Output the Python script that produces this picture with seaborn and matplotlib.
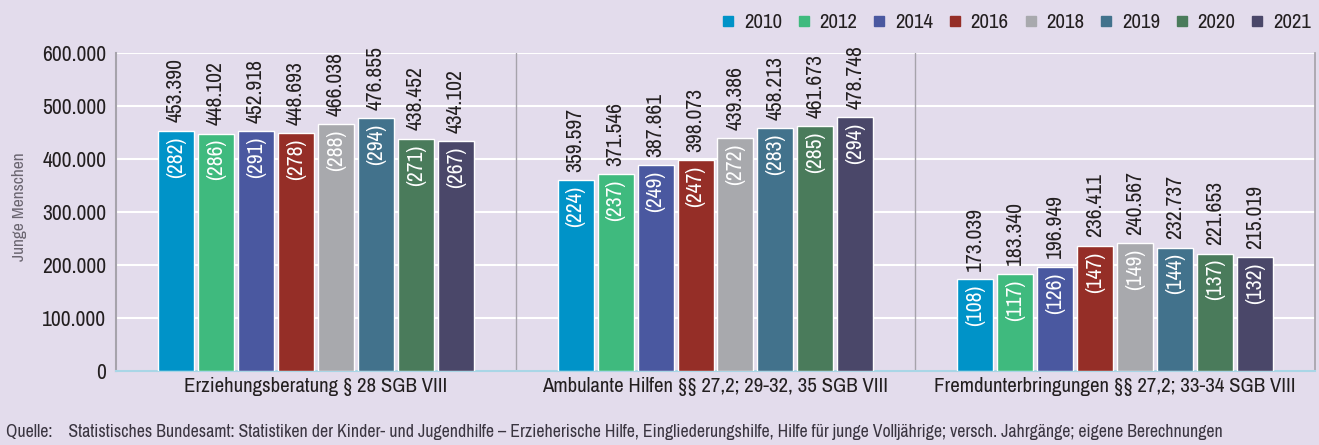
import matplotlib
matplotlib.use("Agg")
import matplotlib.pyplot as plt
import seaborn as sns
import pandas as pd
import numpy as np
from matplotlib.lines import Line2D

categories = ["Erziehungsberatung § 28 SGB VIII",
              "Ambulante Hilfen §§ 27,2; 29-32, 35 SGB VIII",
              "Fremdunterbringungen §§ 27,2; 33-34 SGB VIII"]
years = ["2010", "2012", "2014", "2016", "2018", "2019", "2020", "2021"]
erziehung = [453390, 448102, 452918, 448693, 466038, 476855, 438452, 434102]
ambulant = [359597, 371546, 387861, 398073, 439386, 458213, 461673, 478748]
fremd = [173039, 183340, 196949, 236411, 240567, 232737, 221653, 215019]
erziehung_n = [282, 286, 291, 278, 288, 294, 271, 267]
ambulant_n = [224, 237, 249, 247, 272, 283, 285, 294]
fremd_n = [108, 117, 126, 147, 149, 144, 137, 132]
colors = ["#0093c8", "#3fba7e", "#4a58a0", "#952e27", "#a8a9ad", "#42728c", "#4a7b5b", "#4a4769"]
yticks = [0, 100000, 200000, 300000, 400000, 500000, 600000]
ytick_labels = ["0", "100.000", "200.000", "300.000", "400.000", "500.000", "600.000"]

rows = []
for cat, vals, ns in zip(categories, [erziehung, ambulant, fremd], [erziehung_n, ambulant_n, fremd_n]):
    for y, v, n in zip(years, vals, ns):
        rows.append({"cat": cat, "year": y, "value": v, "n": n})
df = pd.DataFrame(rows)

sns.set_theme(style="white")
plt.rcParams["font.family"] = ["Archivo Narrow", "DejaVu Sans"]
bg = "#e3dcec"
txt = "#231f20"

fig = plt.figure(figsize=(13.19, 4.45), dpi=100, facecolor=bg)
ax = fig.add_axes([116/1319, 1-371/445, (1315-116)/1319, (371-53)/445])
ax.set_facecolor(bg)

sns.barplot(data=df, x="cat", y="value", hue="year", order=categories, hue_order=years,
            palette=colors, width=0.8, gap=0.1, saturation=1, ax=ax, legend=False, zorder=3)

ax.set_ylim(0, 600000)
ax.set_xlim(-0.5, 2.5)
ax.set_yticks(yticks)
ax.set_yticklabels(ytick_labels, fontsize=15.5, color=txt)
ax.yaxis.grid(True, color="white", linewidth=1.5, zorder=0)
ax.set_axisbelow(True)
for x in [0.5, 1.5]:
    ax.axvline(x, color="#a6a3ab", linewidth=1, zorder=1)
ax.tick_params(axis="y", length=0, pad=7)
ax.tick_params(axis="x", length=0, pad=4)
ax.set_xticks(range(3))
ax.set_xticklabels(categories, fontsize=15, color=txt)
ax.set_xlabel("")
ax.set_ylabel("Junge Menschen", fontsize=12.5, color="#6a6570")
ax.yaxis.set_label_coords((27 - 116) / 1199, (371 - 207) / 318)
ax.spines["top"].set_visible(False)
ax.spines["right"].set_color("#a6a3ab")
ax.spines["left"].set_color("#a6a3ab")
ax.spines["left"].set_linewidth(1.5)
ax.spines["bottom"].set_color("#a9d6e6")
ax.spines["bottom"].set_linewidth(1.5)

for container, year in zip(ax.containers, years):
    sub = df[df.year == year]
    for bar, (_, r) in zip(container, sub.iterrows()):
        xc = bar.get_x() + bar.get_width() / 2
        h = bar.get_height()
        v = f"{int(r.value):,}".replace(",", ".")
        ax.annotate(v, (xc, h), xytext=(0, 6), textcoords="offset points",
                    rotation=90, ha="center", va="bottom", fontsize=15.5, color=txt, zorder=5)
        ax.annotate(f"({int(r.n)})", (xc, h), xytext=(0, -4), textcoords="offset points",
                    rotation=90, ha="center", va="top", fontsize=15.5, color="white", zorder=5)

handles = [Line2D([0], [0], marker="s", linestyle="", markersize=6.5, markerfacecolor=c,
                  markeredgecolor=c) for c in colors]
fig.legend(handles, years, loc="upper right", bbox_to_anchor=(1.008, 1.012), ncol=8, frameon=False,
           fontsize=15, handlelength=0.6, handletextpad=0.45, columnspacing=0.75, labelcolor=txt)

fig.text(6/1319, 1-432/445, "Quelle:    Statistisches Bundesamt: Statistiken der Kinder- und Jugendhilfe – Erzieherische Hilfe, Eingliederungshilfe, Hilfe für junge Volljährige; versch. Jahrgänge; eigene Berechnungen",
         fontsize=12.8, color="#3a3540", va="center", ha="left")

fig.savefig("out.png", dpi=100, facecolor=bg)
